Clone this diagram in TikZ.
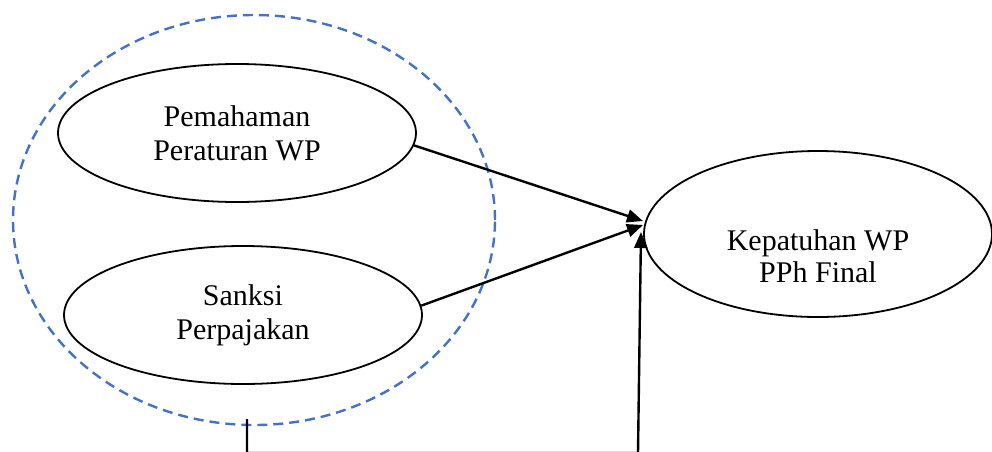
\documentclass[tikz,border=0pt]{standalone}
\usepackage{fontspec}
\setmainfont{Liberation Serif}
\usetikzlibrary{shapes.geometric,arrows.meta}
\definecolor{dashblue}{RGB}{68,114,196}
\tikzset{
  var/.style={ellipse, draw=black, line width=0.9pt, inner sep=0pt, align=center,
    font=\fontsize{15}{17}\selectfont},
  link/.style={line width=1.2pt, -{Triangle[length=8pt,width=6.5pt]}},
  group/.style={ellipse, draw=dashblue, line width=1.2pt, dash pattern=on 5pt off 3pt, inner sep=0pt}
}
\begin{document}
\begin{tikzpicture}[x=0.5pt,y=-0.5pt]
\useasboundingbox (0,0) rectangle (992,451);
\clip (0,0) rectangle (992,451);
\node[group, minimum width=241pt, minimum height=205pt] (grp) at (254,220) {};
\node[var, minimum width=179pt, minimum height=69pt] (pem) at (237,133) {Pemahaman\\Peraturan WP};
\node[var, minimum width=179pt, minimum height=69pt] (san) at (243,315) {Sanksi\\Perpajakan};
\node[var, minimum width=174pt, minimum height=83pt] (kep) at (818,234) {};
\node[font=\fontsize{15}{16}\selectfont, align=center] (keptxt) at (818,256) {Kepatuhan WP\\PPh Final};
\coordinate (t1) at (643,221);
\coordinate (t2) at (643,225);
\coordinate (t3) at (641,232);
\coordinate (b0) at (247,419);
\coordinate (b1) at (247,453);
\coordinate (b2) at (638,453);
\draw[link] (pem.-4) -- (t1);
\draw[link] (san.3) -- (t2);
\draw[link] (b0) -- (b1) -- (b2) -- (t3);
\end{tikzpicture}
\end{document}
